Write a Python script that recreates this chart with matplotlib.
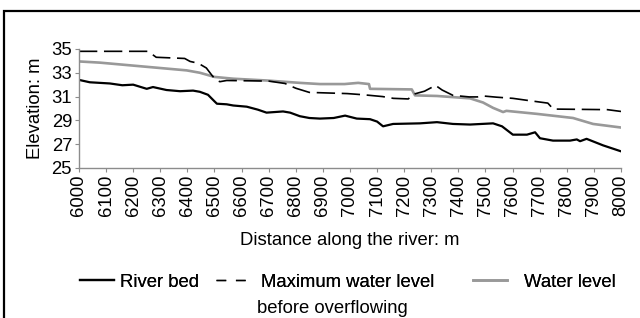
import matplotlib
matplotlib.use("Agg")
import matplotlib.pyplot as plt
from matplotlib.lines import Line2D
from matplotlib.patches import Rectangle

plt.rcParams["font.family"] = ["Liberation Sans", "DejaVu Sans"]

# ------------------------------------------------------------------------------
#   Data
# ------------------------------------------------------------------------------

bed_dist = [6000, 6040, 6077, 6114, 6160, 6200, 6250, 6273, 6323, 6373, 6421,
            6446, 6476, 6500, 6509, 6545, 6569, 6619, 6660, 6692, 6753, 6779,
            6815, 6850, 6889, 6940, 6982, 7025, 7074, 7100, 7122, 7159, 7258,
            7321, 7380, 7443, 7528, 7561, 7601, 7653, 7683, 7701, 7749, 7812,
            7837, 7849, 7873, 7934, 8000]
bed_elev = [32.4, 32.2, 32.15, 32.1, 31.95, 32.0, 31.65, 31.8, 31.55, 31.45, 31.5,
            31.4, 31.15, 30.6, 30.4, 30.35, 30.25, 30.15, 29.9, 29.65, 29.75, 29.65,
            29.35, 29.2, 29.15, 29.2, 29.4, 29.15, 29.1, 28.9, 28.5, 28.7, 28.75,
            28.85, 28.7, 28.65, 28.75, 28.5, 27.8, 27.8, 28.0, 27.5, 27.3, 27.3,
            27.4, 27.25, 27.45, 26.9, 26.4]

max_dist = [6000, 6255, 6285, 6390, 6410, 6440, 6470, 6490, 6505, 6520, 6545,
            6700, 6760, 6800, 6850, 6990, 7050, 7120, 7160, 7215, 7235, 7275,
            7300, 7315, 7340, 7380, 7440, 7470, 7491, 7540, 7601, 7664, 7730,
            7750, 7950, 8000]
max_elev = [34.8, 34.8, 34.3, 34.2, 33.95, 33.8, 33.4, 32.8, 32.4, 32.25, 32.35,
            32.3, 32.1, 31.7, 31.35, 31.25, 31.15, 31.0, 30.85, 30.8, 31.2, 31.45,
            31.75, 31.95, 31.55, 31.1, 30.97, 30.97, 31.05, 30.95, 30.85, 30.65, 30.45,
            29.95, 29.9, 29.75]

water_dist = [6000, 6077, 6200, 6323, 6397, 6446, 6500, 6569, 6692, 6815, 6889,
              6980, 7030, 7070, 7074, 7228, 7240, 7321, 7443, 7491, 7528, 7565,
              7577, 7688, 7823, 7897, 8000]
water_elev = [33.95, 33.85, 33.6, 33.35, 33.2, 33.0, 32.65, 32.5, 32.35, 32.15, 32.05,
              32.05, 32.15, 32.05, 31.65, 31.6, 31.1, 31.05, 30.85, 30.5, 30.05, 29.7,
              29.8, 29.55, 29.2, 28.7, 28.4]

x_ticks = list(range(6000, 8001, 100))
y_ticks = [25, 27, 29, 31, 33, 35]

GRAY = "#999999"
SPINE = "#8c8c8c"
FS = 13.3

# ------------------------------------------------------------------------------
#   Plot
# ------------------------------------------------------------------------------

fig = plt.figure(figsize=(6.4, 3.18), dpi=100)
ax = fig.add_axes([0.1234, 0.4717, 0.8469, 0.3744])

ax.plot(water_dist, water_elev, color=GRAY, lw=1.9, solid_joinstyle="round")
ax.plot(max_dist, max_elev, color="black", lw=1.2, linestyle=(0, (11, 4)))
ax.plot(bed_dist, bed_elev, color="black", lw=1.6, solid_joinstyle="round")

ax.set_xlim(6000, 8000)
ax.set_ylim(25, 35)
ax.set_xticks(x_ticks)
ax.set_xticklabels([str(t) for t in x_ticks], rotation=90)
ax.set_yticks(y_ticks)
ax.tick_params(axis="both", labelsize=FS, length=3, width=0.8, color=SPINE,
               direction="out", pad=2)

for side in ["top", "right"]:
    ax.spines[side].set_visible(False)
for side in ["left", "bottom"]:
    ax.spines[side].set_color(SPINE)
    ax.spines[side].set_linewidth(1.0)

ax.set_xlabel("Distance along the river: m", fontsize=FS, labelpad=11)
ax.set_ylabel("Elevation: m", fontsize=FS, labelpad=5)

# Legend: one entry per legend, placed where the reference has them
entries = [
    (Line2D([], [], color="black", lw=1.6), "River bed", 0.125, 0.3),
    (Line2D([], [], color="black", lw=1.0, linestyle=(0, (7, 7))),
     "Maximum water level", 0.3375, 0.6),
    (Line2D([], [], color=GRAY, lw=1.9), "Water level", 0.739, 0.9),
]
for handle, label, x0, pad in entries:
    leg = fig.legend(
        handles=[handle],
        labels=[label],
        loc="center left",
        bbox_to_anchor=(x0, 0.113),
        frameon=False,
        fontsize=FS,
        borderpad=0,
        borderaxespad=0,
        handlelength=1.85,
        handletextpad=pad,
    )
    fig.add_artist(leg)

fig.text(0.4016, 0.031, "before overflowing", fontsize=FS, va="center",
         ha="left")

# Border around the figure
fig.patches.append(
    Rectangle((0.0065, -0.1), 1.1, 1.065, transform=fig.transFigure,
              fill=False, edgecolor="black", lw=1.6, clip_on=False)
)

fig.savefig("out.png", dpi=100)
